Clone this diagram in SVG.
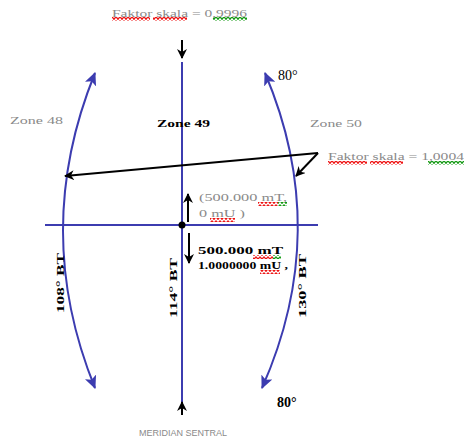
<svg xmlns="http://www.w3.org/2000/svg" width="464" height="442" viewBox="0 0 464 442">
<style>
.blue{stroke:#3c3cb0;stroke-width:2;fill:none}
.blk{stroke:#000;stroke-width:2;fill:none}
.g{font-family:"Liberation Serif",serif;font-size:11px;fill:#8a8a8a}
.b{font-family:"Liberation Serif",serif;font-size:11px;fill:#000;font-weight:bold}
.s{font-family:"Liberation Sans",sans-serif;font-size:9px;fill:#8a8a8a}
</style>
<defs>
<marker id="ab" markerWidth="13" markerHeight="12" refX="12" refY="6" orient="auto-start-reverse" markerUnits="userSpaceOnUse"><path d="M0,0 L13,6 L0,12 L3,6 Z" fill="#3c3cb0"/></marker>
<marker id="ak" markerWidth="10" markerHeight="10" refX="9" refY="5" orient="auto-start-reverse" markerUnits="userSpaceOnUse"><path d="M0,0 L10,5 L0,10 L3,5 Z" fill="#000"/></marker>
<pattern id="wr" width="4" height="4" patternUnits="userSpaceOnUse"><path d="M0,0.7 L2,3.3 L4,0.7" stroke="#ee1111" stroke-width="1.3" fill="none"/></pattern>
<pattern id="wg" width="4" height="4" patternUnits="userSpaceOnUse"><path d="M0,0.7 L2,3.3 L4,0.7" stroke="#119911" stroke-width="1.3" fill="none"/></pattern>
</defs>
<g id="connectors">
<line class="blue" x1="182" y1="62" x2="182" y2="410"/>
<line class="blue" x1="45" y1="225" x2="318" y2="225"/>
<path class="blue" d="M95,73 Q31,230.5 95,388" marker-start="url(#ab)" marker-end="url(#ab)"/>
<path class="blue" d="M265,73 Q332,230.5 262,388" marker-start="url(#ab)" marker-end="url(#ab)"/>
<line class="blk" x1="182" y1="40" x2="182" y2="58" marker-end="url(#ak)"/>
<line class="blk" x1="182" y1="415" x2="182" y2="402" marker-end="url(#ak)"/>
<line class="blk" x1="318" y1="153" x2="65" y2="176" marker-end="url(#ak)"/>
<line class="blk" x1="318" y1="153" x2="296" y2="176" marker-end="url(#ak)"/>
<line class="blk" x1="188" y1="222" x2="188" y2="194" marker-end="url(#ak)"/>
<line class="blk" x1="189" y1="233" x2="189" y2="263" marker-end="url(#ak)"/>
<circle cx="182" cy="225" r="3.5" fill="#000"/>
</g>
<g id="label-top">
<text class="g" x="112" y="17" textLength="135" lengthAdjust="spacingAndGlyphs">Faktor skala = 0,9996</text>
<rect x="112" y="17" width="38" height="4" fill="url(#wr)"/>
<rect x="153" y="17" width="34" height="4" fill="url(#wr)"/>
<rect x="213" y="17" width="34" height="4" fill="url(#wg)"/>
</g>
<g id="label-right">
<text class="g" x="328" y="160" textLength="136" lengthAdjust="spacingAndGlyphs">Faktor skala = 1,0004</text>
<rect x="328" y="161" width="39" height="4" fill="url(#wr)"/>
<rect x="370" y="161" width="33" height="4" fill="url(#wr)"/>
<rect x="428" y="161" width="36" height="4" fill="url(#wg)"/>
</g>
<g id="zone48"><text class="g" x="10" y="124" textLength="53" lengthAdjust="spacingAndGlyphs">Zone 48</text></g>
<g id="zone49"><text class="b" x="157" y="127" textLength="53" lengthAdjust="spacingAndGlyphs">Zone 49</text></g>
<g id="zone50"><text class="g" x="310" y="127" textLength="52" lengthAdjust="spacingAndGlyphs">Zone 50</text></g>
<g id="lat-top"><text class="b" x="278" y="80" style="font-size:14px;font-weight:normal">80°</text></g>
<g id="lat-bottom"><text class="b" x="277" y="407" style="font-size:14px">80°</text></g>
<g id="origin-north">
<text class="g" x="199" y="201" textLength="88" lengthAdjust="spacingAndGlyphs">(500.000 mT,</text>
<rect x="258" y="202" width="20" height="4" fill="url(#wr)"/>
<rect x="278" y="202" width="9" height="4" fill="url(#wg)"/>
<text class="g" x="199" y="217" textLength="46" lengthAdjust="spacingAndGlyphs">0 mU )</text>
<rect x="210" y="218" width="25" height="4" fill="url(#wr)"/>
</g>
<g id="origin-south">
<text class="b" x="198" y="254" textLength="85" lengthAdjust="spacingAndGlyphs">500.000 mT</text>
<rect x="253" y="255" width="20" height="4" fill="url(#wr)"/>
<rect x="273" y="255" width="8" height="4" fill="url(#wg)"/>
<text class="b" x="198" y="269" textLength="90" lengthAdjust="spacingAndGlyphs">1.0000000 mU ,</text>
<rect x="260" y="270" width="20" height="4" fill="url(#wr)"/>
</g>
<g id="lon108"><text class="b" transform="translate(64,313) rotate(-90)" textLength="60" lengthAdjust="spacingAndGlyphs">108° BT</text></g>
<g id="lon114"><text class="b" transform="translate(177,318) rotate(-90)" textLength="60" lengthAdjust="spacingAndGlyphs">114° BT</text></g>
<g id="lon130"><text class="b" transform="translate(306,318) rotate(-90)" textLength="64" lengthAdjust="spacingAndGlyphs">130° BT</text></g>
<g id="meridian"><text class="s" x="183" y="436" text-anchor="middle">MERIDIAN SENTRAL</text></g>
</svg>
